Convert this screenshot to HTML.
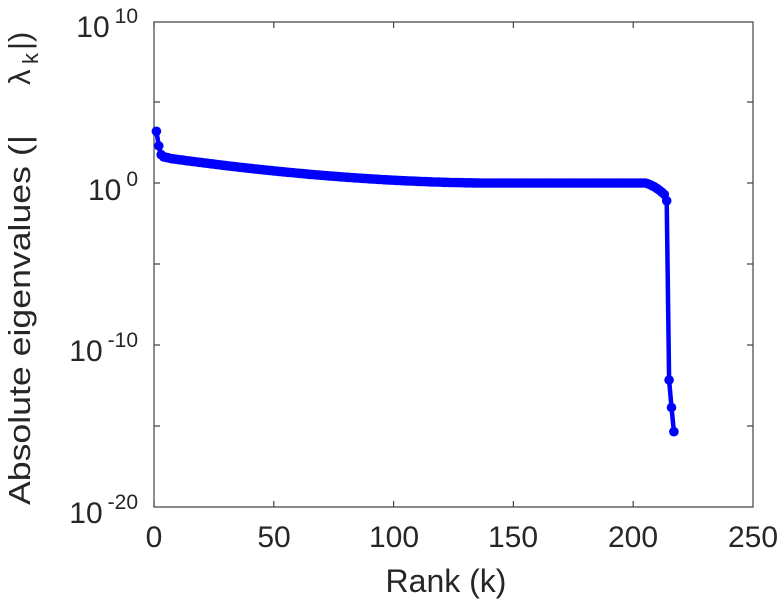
<!DOCTYPE html>
<html><head><meta charset="utf-8"><style>
body{margin:0;background:#fff;}
svg text{font-family:"Liberation Sans",sans-serif;fill:#262626;}
</style></head><body>
<svg id="s" width="783" height="600" xmlns="http://www.w3.org/2000/svg">
<rect width="783" height="600" fill="#fff"/>
<g stroke="#444" stroke-width="1.2" fill="none">
<path d="M154,22 H753 V507 H154 Z"/>
<path d="M154,22v6M273.8,22v6M393.6,22v6M513.4,22v6M633.2,22v6
M154,507v-6M273.8,507v-6M393.6,507v-6M513.4,507v-6M633.2,507v-6
M154,102h6M154,183h6M154,264h6M154,345h6M154,426h6
M753,102h-6M753,183h-6M753,264h-6M753,345h-6M753,426h-6"/>
</g>
<g font-size="30" text-anchor="middle">
<text x="154" y="547">0</text><text x="274" y="547">50</text><text x="394" y="547">100</text>
<text x="513" y="547">150</text><text x="633" y="547">200</text><text x="753" y="547">250</text>
<text x="446" y="592" font-size="32">Rank (k)</text>
</g>
<g font-size="30" text-anchor="end">
<text x="138" y="37">10<tspan dx="5" dy="-14" font-size="21">10</tspan></text>
<text x="138" y="200">10<tspan dx="5" dy="-14" font-size="21">0</tspan></text>
<text x="138" y="361">10<tspan dx="5" dy="-14" font-size="21">-10</tspan></text>
<text x="138" y="523">10<tspan dx="5" dy="-14" font-size="21">-20</tspan></text>
</g>
<g transform="translate(30,0) rotate(-90)" font-size="31">
<text x="-505" y="0" textLength="370" lengthAdjust="spacingAndGlyphs">Absolute eigenvalues (|</text>
<text x="-85" y="0">λ</text>
<text x="-64" y="8" font-size="22">k</text>
<text x="-50" y="0">|)</text>
</g>
<g id="d"></g>
</svg>
<script>
var pts=[];
function X(k){return 154+k*2.396;}
function Y(l){return 183-l*16.15;}
var special={1:3.2,2:2.3,3:1.75};
for(var k=1;k<=217;k++){
 var l;
 if(special[k]!==undefined)l=special[k];
 else if(k<=140){var t=(k-3)/137;l=1.6*Math.pow(1-t,1.8);if(k<7)l=1.65-0.03*(k-3);}
 else if(k<=205)l=0;
 else if(k<=213)l=-(k-205)*0.04-Math.pow(k-205,2)*0.006;
 else if(k==214)l=-1.1;
 else if(k==215)l=-12.2;
 else if(k==216)l=-13.9;
 else l=-15.4;
 pts.push([X(k),Y(l)]);
}
var d="M"+pts.map(p=>p[0].toFixed(1)+","+p[1].toFixed(1)).join("L");
var g=document.getElementById("d");
var h='<path d="'+d+'" stroke="#0000ff" stroke-width="4.5" fill="none" stroke-linejoin="round"/>';
pts.forEach(p=>{h+='<circle cx="'+p[0].toFixed(1)+'" cy="'+p[1].toFixed(1)+'" r="4.8" fill="#0000ff"/>';});
g.innerHTML=h;
</script>
</body></html>
